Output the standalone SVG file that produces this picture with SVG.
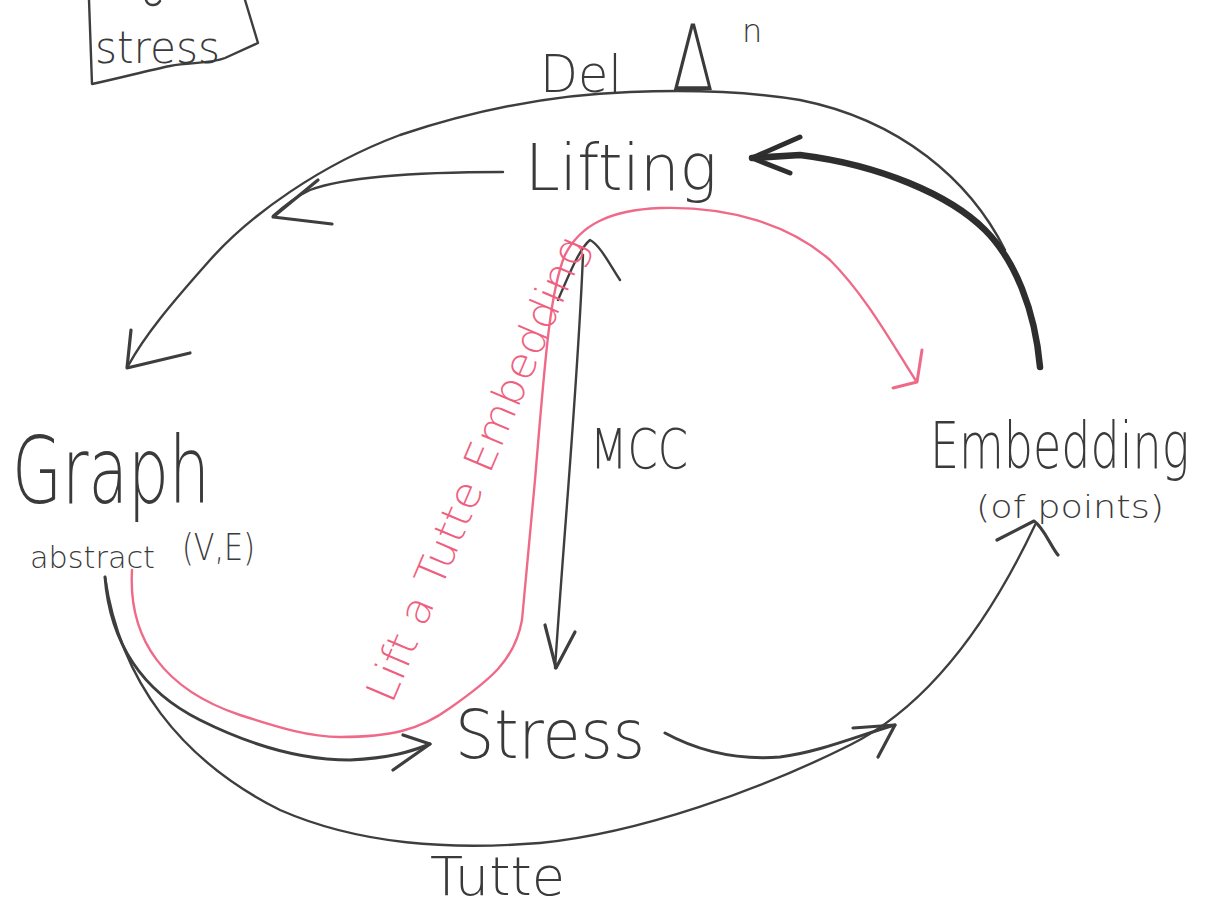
<svg xmlns="http://www.w3.org/2000/svg" width="1214" height="911" viewBox="0 0 1214 911">
<style>
.ink{fill:none;stroke:#3e3e3e;stroke-width:2.4;stroke-linecap:round;stroke-linejoin:round}
.head{fill:none;stroke:#3e3e3e;stroke-width:3.2;stroke-linecap:round;stroke-linejoin:round}
.thick{fill:none;stroke:#2e2e2e;stroke-width:6.5;stroke-linecap:round;stroke-linejoin:round}
.pink{fill:none;stroke:#ef6a88;stroke-width:2.4;stroke-linecap:round;stroke-linejoin:round}
.t{font-family:"DejaVu Sans","Liberation Sans",sans-serif;font-weight:200;fill:#3a3a3a}
.pt{font-family:"DejaVu Sans","Liberation Sans",sans-serif;font-weight:200;fill:#ef5f80}
</style>
<rect width="1214" height="911" fill="#ffffff"/>

<g id="connectors">
  <!-- Del arc: Embedding to Graph -->
  <path class="ink" d="M1005,250 C970,180 900,120 800,100 C740,90 680,90 630,92 C540,95 460,115 400,135 C320,165 250,215 210,260 C170,305 145,335 128,366"/>
  <path class="head" d="M131,330 L127,368 L190,353"/>
  <!-- Lifting to arrow left -->
  <path class="ink" d="M503,172 C430,172 350,175 310,190 C295,197 285,205 273,216"/>
  <path class="head" d="M318,180 L273,217 L332,224"/>
  <!-- MCC: Lifting to Stress -->
  <path class="ink" d="M583,255 C578,380 565,520 555,668"/>
  <path class="head" d="M545,625 L556,668 L575,632"/>
  <path class="ink" d="M558,300 C570,272 580,248 590,240 C600,245 610,265 620,280"/>
  <!-- Pink: Lift a Tutte Embedding -->
  <path class="pink" d="M132,570 C128,640 165,690 240,715 C280,728 310,737 340,737 C390,737 420,730 450,708 C490,680 515,660 522,620 L535,480 C545,360 550,290 565,255 C580,225 610,210 660,208 C730,206 790,225 830,260 C865,295 890,340 916,381"/>
  <path class="pink" style="stroke-width:3" d="M922,350 L917,382 L893,388"/>
  <!-- Graph to Stress -->
  <path class="ink" style="stroke-width:3" d="M105,577 C110,640 140,690 200,720 C250,745 300,760 350,760 C390,758 410,752 430,744"/>
  <path class="head" d="M403,735 L430,744 L393,770"/>
  <!-- Tutte arc: Graph to Embedding -->
  <path class="ink" d="M105,577 C120,680 180,760 280,810 C360,845 450,850 540,843 C640,833 760,790 850,745 C930,705 990,620 1035,525"/>
  <path class="head" d="M997,540 L1034,521 C1044,528 1050,545 1058,555"/>
  <!-- Stress to Embedding -->
  <path class="ink" style="stroke-width:3" d="M665,733 C700,752 740,760 780,757 C820,752 860,735 895,725"/>
  <path class="head" d="M853,728 L895,725 L878,757"/>
  <!-- Thick: Embedding to Lifting -->
  <path class="thick" d="M1040,367 C1035,310 1015,260 985,230 C950,195 880,165 800,155 L752,158"/>
  <path class="thick" style="stroke-width:5" d="M800,137 L752,158 L790,173"/>
</g>

<g id="box-stress">
  <path class="ink" d="M89,0 L92,84 C120,78 150,70 170,66 C190,62 210,64 225,58 L258,43 L245,0"/>
  <path class="ink" d="M146,0 C148,6 156,7 160,1"/>
  <text class="t" x="95" y="63" font-size="44" textLength="125" lengthAdjust="spacingAndGlyphs">stress</text>
</g>

<g id="label-del">
  <text class="t" x="540" y="92" font-size="52" textLength="82" lengthAdjust="spacingAndGlyphs">Del</text>
  <text class="t" x="672" y="90" font-size="90" textLength="42" lengthAdjust="spacingAndGlyphs">Δ</text>
  <text class="t" x="742" y="42" font-size="32">n</text>
</g>

<g id="node-lifting">
  <text class="t" x="525" y="190" font-size="64" textLength="192" lengthAdjust="spacingAndGlyphs">Lifting</text>
</g>

<g id="node-graph">
  <text class="t" x="12" y="503" font-size="92" textLength="198" lengthAdjust="spacingAndGlyphs">Graph</text>
  <text class="t" x="30" y="568" font-size="30" textLength="125" lengthAdjust="spacingAndGlyphs">abstract</text>
  <text class="t" x="182" y="560" font-size="38" textLength="73" lengthAdjust="spacingAndGlyphs">(V,E)</text>
</g>

<g id="label-mcc">
  <text class="t" x="590" y="468" font-size="55" textLength="98" lengthAdjust="spacingAndGlyphs">MCC</text>
</g>

<g id="node-embedding">
  <text class="t" x="0" y="0" font-size="46" transform="translate(930,468) scale(1,1.4)">Embedding</text>
  <text class="t" x="976" y="518" font-size="32" textLength="188" lengthAdjust="spacingAndGlyphs">(of points)</text>
</g>

<g id="node-stress">
  <text class="t" x="455" y="758" font-size="68" textLength="190" lengthAdjust="spacingAndGlyphs">Stress</text>
</g>

<g id="label-tutte">
  <text class="t" x="430" y="895" font-size="54" textLength="135" lengthAdjust="spacingAndGlyphs">Tutte</text>
</g>

<g id="label-lift">
  <text class="pt" x="392" y="705" font-size="42" textLength="500" lengthAdjust="spacingAndGlyphs" transform="rotate(-67 392 705)">Lift a Tutte Embedding</text>
</g>
</svg>
